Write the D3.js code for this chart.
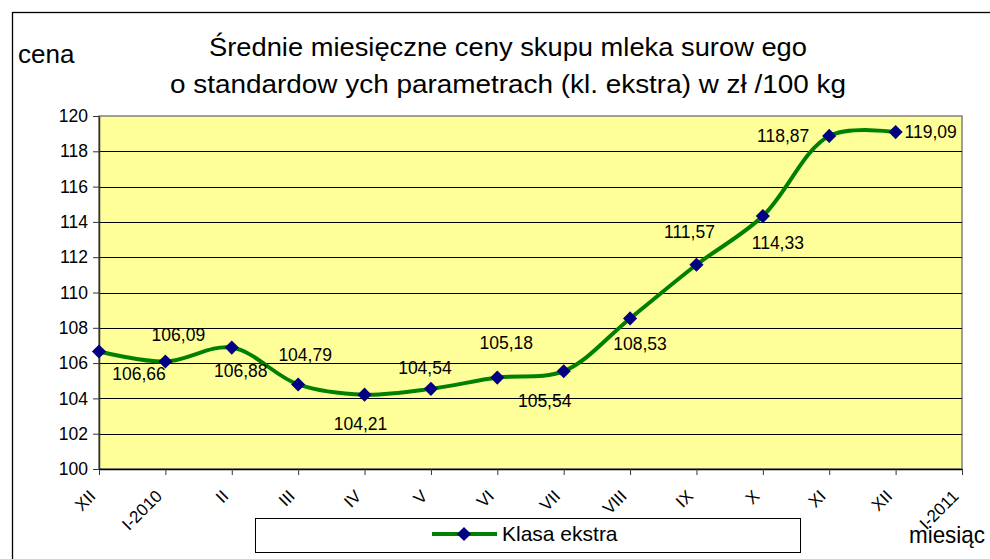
<!DOCTYPE html>
<html>
<head>
<meta charset="utf-8">
<script src="https://cdn.jsdelivr.net/npm/d3@7"></script>
<style>
  body { margin: 0; background: #fff; }
  text { font-family: "Liberation Sans", Arial, sans-serif; fill: #000; }
</style>
</head>
<body>
<div id="chart"></div>
<script>
// miesiące na osi X (14 pozycji, dane dla 13)
const months = ['XII', 'I-2010', 'II', 'III', 'IV', 'V', 'VI', 'VII', 'VIII', 'IX', 'X', 'XI', 'XII', 'I-2011'];
// ceny klasy ekstra, zł/100 kg
const prices = [106.66, 106.09, 106.88, 104.79, 104.21, 104.54, 105.18, 105.54, 108.53, 111.57, 114.33, 118.87, 119.09];
const priceLabels = ['106,66', '106,09', '106,88', '104,79', '104,21', '104,54', '105,18', '105,54', '108,53', '111,57', '114,33', '118,87', '119,09'];
const yTicks = [100, 102, 104, 106, 108, 110, 112, 114, 116, 118, 120];
const seriesName = 'Klasa ekstra';

// przesunięcia etykiet względem punktów (tak jak w Excelu)
const labelOffsets = [
    [40, 22], [13, -27], [9, 23], [7, -30], [-4, 29], [-6, -21], [9, -35],
    [-19, 30], [10, 25], [-7, -33], [15, 27], [-46, 0], [35, 0]
];

const width = 990;
const height = 559;
const plot = {left: 99, right: 962, top: 116, bottom: 469};

const svg = d3.select('#chart').append('svg')
    .attr('width', width)
    .attr('height', height);

// ramka wykresu
svg.append('rect')
    .attr('x', 12.5).attr('y', 12.5)
    .attr('width', 1000).attr('height', 600)
    .attr('fill', 'none').attr('stroke', '#000').attr('stroke-width', 1.3);

const x = d3.scalePoint()
    .domain(d3.range(months.length))
    .range([plot.left, plot.right]);

const y = d3.scaleLinear()
    .domain([100, 120])
    .range([plot.bottom, plot.top]);

// tło obszaru kreślenia
svg.append('rect')
    .attr('x', plot.left).attr('y', plot.top)
    .attr('width', plot.right - plot.left).attr('height', plot.bottom - plot.top)
    .attr('fill', '#FFFF99')
    .attr('stroke', '#808080').attr('stroke-width', 1.5);

// linie siatki
svg.append('g')
    .selectAll('line')
    .data(yTicks.filter(function (d) { return d > 100 && d < 120; }))
    .enter()
    .append('line')
    .attr('x1', plot.left).attr('x2', plot.right)
    .attr('y1', function (d) { return Math.round(y(d)) + 0.5; })
    .attr('y2', function (d) { return Math.round(y(d)) + 0.5; })
    .attr('stroke', '#000').attr('stroke-width', 1);

// oś Y
const yAxis = svg.append('g')
    .attr('transform', 'translate(' + plot.left + ',0)')
    .call(d3.axisLeft(y).tickValues(yTicks).tickSize(6).tickSizeOuter(0).tickPadding(5));
yAxis.select('.domain').attr('stroke', '#333').attr('stroke-width', 1.5);
yAxis.selectAll('.tick line').attr('stroke', '#333');
yAxis.selectAll('.tick text')
    .style('font-size', '17.5px')
    .style('font-family', '"Liberation Sans", Arial, sans-serif');

// oś X
const xAxis = svg.append('g')
    .attr('transform', 'translate(0,' + plot.bottom + ')')
    .call(d3.axisBottom(x).tickSize(6).tickSizeOuter(0).tickFormat(function (i) { return months[i]; }));
xAxis.select('.domain').attr('stroke', '#000').attr('stroke-width', 1.5);
xAxis.selectAll('.tick line').attr('stroke', '#333');
xAxis.selectAll('.tick text')
    .style('font-size', '17px')
    .style('font-family', '"Liberation Sans", Arial, sans-serif')
    .attr('text-anchor', 'end')
    .attr('x', 0).attr('y', 0).attr('dy', '0.35em')
    .attr('transform', 'translate(-7,24) rotate(-45)');

// linia serii
const line = d3.line()
    .x(function (d, i) { return x(i); })
    .y(function (d) { return y(d); })
    .curve(d3.curveCatmullRom.alpha(0.5));

svg.append('path')
    .datum(prices)
    .attr('d', line)
    .attr('fill', 'none')
    .attr('stroke', '#008000')
    .attr('stroke-width', 4)
    .attr('stroke-linejoin', 'round');

// znaczniki
const diamond = d3.symbol().type(d3.symbolSquare).size(100);
svg.append('g')
    .selectAll('path')
    .data(prices)
    .enter()
    .append('path')
    .attr('d', diamond)
    .attr('fill', '#000080')
    .attr('transform', function (d, i) {
        return 'translate(' + x(i) + ',' + y(d) + ') rotate(45)';
    });

// etykiety danych
svg.append('g')
    .selectAll('text')
    .data(prices)
    .enter()
    .append('text')
    .attr('x', function (d, i) { return x(i) + labelOffsets[i][0]; })
    .attr('y', function (d, i) { return y(d) + labelOffsets[i][1]; })
    .attr('dy', '0.35em')
    .attr('text-anchor', 'middle')
    .style('font-size', '17.5px')
    .text(function (d, i) { return priceLabels[i]; });

// tytuł
svg.append('text')
    .attr('x', 508).attr('y', 56)
    .attr('text-anchor', 'middle')
    .attr('textLength', 598).attr('lengthAdjust', 'spacingAndGlyphs')
    .style('font-size', '25px')
    .text('Średnie miesięczne ceny skupu mleka surow ego');
svg.append('text')
    .attr('x', 508).attr('y', 93)
    .attr('text-anchor', 'middle')
    .attr('textLength', 676).attr('lengthAdjust', 'spacingAndGlyphs')
    .style('font-size', '25px')
    .text('o standardow ych parametrach (kl. ekstra) w  zł /100 kg');

// opisy osi
svg.append('text')
    .attr('x', 18).attr('y', 63)
    .style('font-size', '26px')
    .text('cena');
svg.append('text')
    .attr('x', 909).attr('y', 543)
    .attr('textLength', 76).attr('lengthAdjust', 'spacingAndGlyphs')
    .style('font-size', '24px')
    .text('miesiąc');

// legenda
const legend = svg.append('g');
legend.append('rect')
    .attr('x', 255.5).attr('y', 518.5)
    .attr('width', 545).attr('height', 34)
    .attr('fill', '#fff').attr('stroke', '#000').attr('stroke-width', 1);
legend.append('line')
    .attr('x1', 432).attr('x2', 497)
    .attr('y1', 534).attr('y2', 534)
    .attr('stroke', '#008000').attr('stroke-width', 4);
legend.append('path')
    .attr('d', diamond)
    .attr('fill', '#000080')
    .attr('transform', 'translate(464,534) rotate(45)');
legend.append('text')
    .attr('x', 502).attr('y', 534)
    .attr('dy', '0.35em')
    .style('font-size', '21px')
    .text(seriesName);
</script>
</body>
</html>
